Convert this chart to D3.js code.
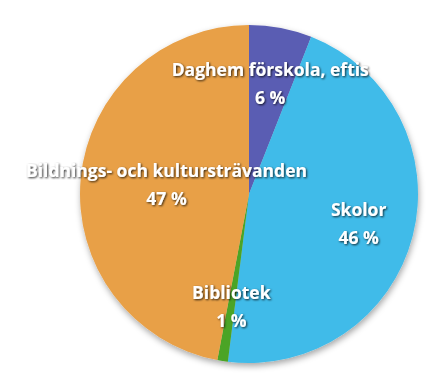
<!DOCTYPE html>
<html lang="sv">
<head>
<meta charset="UTF-8">
<script src="https://d3js.org/d3.v7.min.js"></script>
<style>
  body { margin: 0; background: #fff; }
  .lbl { font-family: "Open Sans", sans-serif; font-weight: bold; font-size: 17.5px; fill: #fff; }
</style>
</head>
<body>
<svg id="chart" width="442" height="390"></svg>
<script>
// slices clockwise from 12 o'clock
const categories = ["Daghem förskola, eftis", "Skolor", "Bibliotek", "Bildnings- och kultursträvanden"];
const shares = [6, 46, 1, 47];
const pctLabels = ["6 %", "46 %", "1 %", "47 %"];
const colors = ["#5a5db3", "#3fbbe9", "#4ca428", "#e8a047"];

const svg = d3.select("#chart");
const cx = 249, cy = 194, radius = 169;

const defs = svg.append("defs");
const sh = defs.append("filter").attr("id", "pieShadow")
  .attr("x", "-10%").attr("y", "-10%").attr("width", "120%").attr("height", "120%");
sh.append("feDropShadow").attr("dx", 1).attr("dy", 3).attr("stdDeviation", 3)
  .attr("flood-color", "#000").attr("flood-opacity", 0.35);
const ts = defs.append("filter").attr("id", "txtShadow");
ts.append("feDropShadow").attr("dx", 1).attr("dy", 1).attr("stdDeviation", 0.8)
  .attr("flood-color", "#000").attr("flood-opacity", 0.8);

const data = categories.map((c, i) => ({ name: c, value: shares[i], pct: pctLabels[i], color: colors[i] }));
const pie = d3.pie().sort(null).value(d => d.value);
const arc = d3.arc().innerRadius(0).outerRadius(radius);
const labelArc = d3.arc().innerRadius(radius * 0.67).outerRadius(radius * 0.67);

const g = svg.append("g").attr("transform", `translate(${cx},${cy})`);
const arcs = pie(data);

g.append("g").attr("filter", "url(#pieShadow)")
  .selectAll("path").data(arcs).join("path")
  .attr("d", arc)
  .attr("fill", d => d.data.color);

const labels = g.selectAll("g.lbl").data(arcs).join("g")
  .attr("class", "lbl")
  .attr("filter", "url(#txtShadow)");

labels.append("text").attr("text-anchor", "middle").attr("y", -6.5).text(d => d.data.name);
labels.append("text").attr("text-anchor", "middle").attr("y", 21.5).text(d => d.data.pct);

// place at centroid, nudge inside the canvas if the name would run off the edge
labels.attr("transform", function(d) {
  let [x, y] = labelArc.centroid(d);
  const w = d3.select(this).select("text").node().getComputedTextLength();
  const minX = 26 - cx + w / 2, maxX = 442 - 10 - cx - w / 2;
  x = Math.max(minX, Math.min(maxX, x));
  return `translate(${x},${y})`;
});
</script>
</body>
</html>
